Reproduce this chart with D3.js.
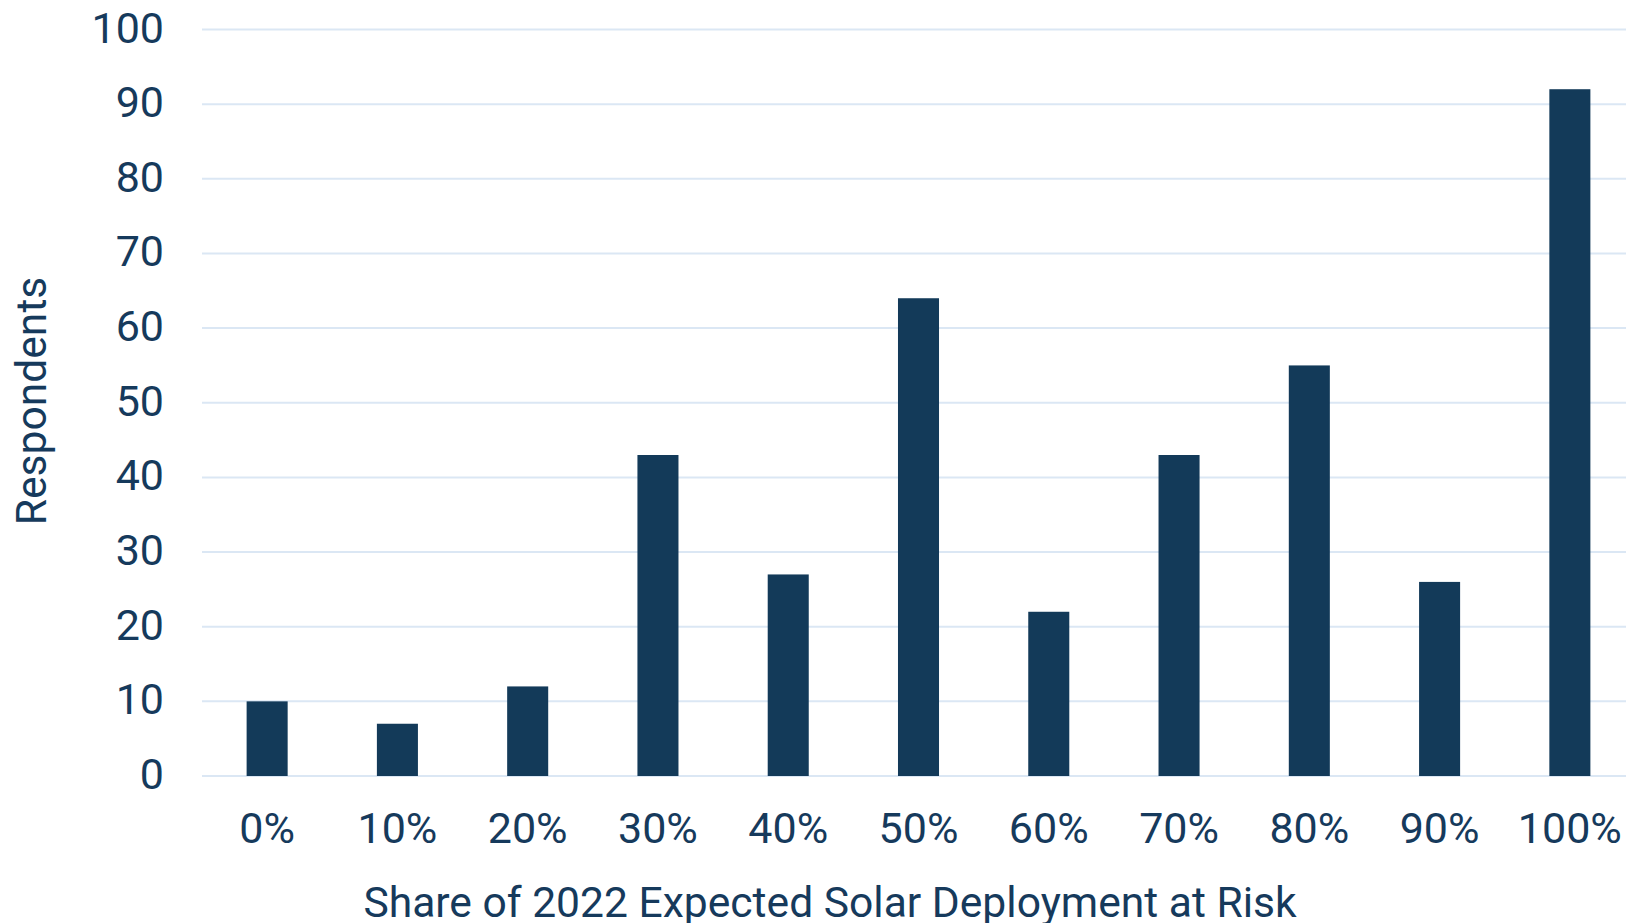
<!DOCTYPE html>
<html>
<head>
<meta charset="utf-8">
<script src="https://cdn.jsdelivr.net/npm/d3@7"></script>
<style>
  body { margin: 0; background: #fff; }
  text { font-family: Roboto, "Noto Sans", sans-serif; fill: #163a5c; }
</style>
</head>
<body>
<div id="chart"></div>
<script>
const width = 1626, height = 923;

// data
const categories = ["0%", "10%", "20%", "30%", "40%", "50%", "60%", "70%", "80%", "90%", "100%"];
const respondents = [10, 7, 12, 43, 27, 64, 22, 43, 55, 26, 92];
const yTicks = [0, 10, 20, 30, 40, 50, 60, 70, 80, 90, 100];

const margin = {left: 202, right: -9, top: 29.5, bottom: 147};

const svg = d3.select("#chart").append("svg")
    .attr("width", width)
    .attr("height", height);

const x = d3.scaleBand()
    .domain(categories)
    .range([margin.left, width - margin.right])
    .paddingInner(0.685)
    .paddingOuter(0.3425);

const y = d3.scaleLinear()
    .domain([0, 100])
    .range([height - margin.bottom, margin.top]);

// gridlines
svg.append("g")
  .selectAll("line")
  .data(yTicks)
  .enter()
  .append("line")
    .attr("x1", margin.left)
    .attr("x2", width)
    .attr("y1", d => y(d))
    .attr("y2", d => y(d))
    .attr("stroke", "#dbe7f4")
    .attr("stroke-width", 2);

// y tick labels
svg.append("g")
  .selectAll("text")
  .data(yTicks)
  .enter()
  .append("text")
    .attr("x", 164)
    .attr("y", d => y(d) + 13)
    .attr("text-anchor", "end")
    .style("font-size", "43px")
    .text(d => d);

// bars
svg.append("g")
  .selectAll("rect")
  .data(respondents)
  .enter()
  .append("rect")
    .attr("x", (d, i) => x(categories[i]))
    .attr("width", x.bandwidth())
    .attr("y", d => y(d))
    .attr("height", d => y(0) - y(d))
    .attr("fill", "#133a59");

// x tick labels
svg.append("g")
  .selectAll("text")
  .data(categories)
  .enter()
  .append("text")
    .attr("x", d => x(d) + x.bandwidth() / 2)
    .attr("y", 843)
    .attr("text-anchor", "middle")
    .style("font-size", "43px")
    .text(d => d);

// axis titles
svg.append("text")
    .attr("x", 830)
    .attr("y", 917)
    .attr("text-anchor", "middle")
    .style("font-size", "42.6px")
    .text("Share of 2022 Expected Solar Deployment at Risk");

svg.append("text")
    .attr("transform", "translate(46,401) rotate(-90)")
    .attr("text-anchor", "middle")
    .style("font-size", "42.6px")
    .text("Respondents");
</script>
</body>
</html>
